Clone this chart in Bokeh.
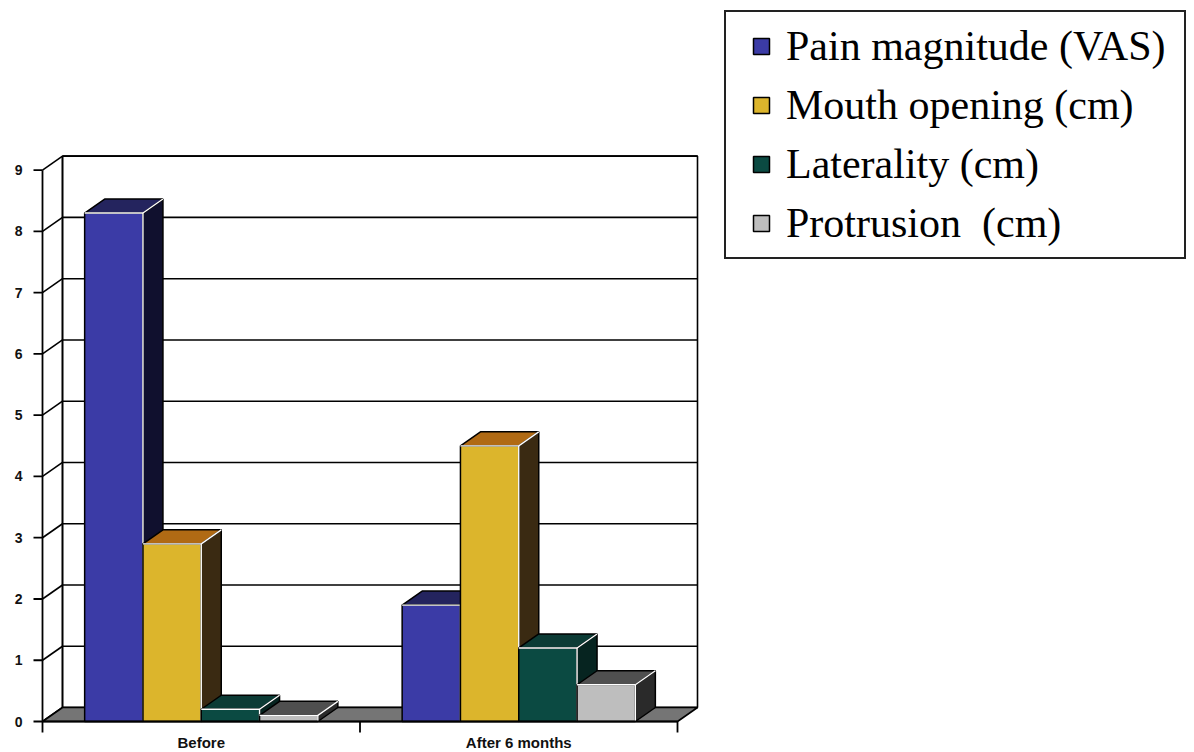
import numpy as np
from bokeh.plotting import figure
from bokeh.models import Range1d, FixedTicker, Legend, LegendItem
from bokeh.core.properties import value
from bokeh.embed import file_html
from bokeh.resources import INLINE

# ---------------- data ----------------
groups = ["Before", "After 6 months"]
series_names = ["Pain magnitude (VAS)", "Mouth opening (cm)", "Laterality (cm)", "Protrusion  (cm)"]
pain = [8.3, 1.9]
mouth_opening = [2.9, 4.5]
laterality = [0.2, 1.2]
protrusion = [0.1, 0.6]
y_ticks = [0, 1, 2, 3, 4, 5, 6, 7, 8, 9]

series_values = [pain, mouth_opening, laterality, protrusion]

# ---------------- style ----------------
front_colors = ["#3b3ba6", "#dcb52c", "#0b4a42", "#bebebe"]
top_colors = ["#24245e", "#b06a14", "#0c3b35", "#4f4f4f"]
side_colors = ["#10102e", "#3a2a12", "#062420", "#2a2a2a"]
LINE = "#000000"
FLOOR = "#757575"

FIG_W, FIG_H = 1194, 752
FRAME_L, FRAME_R, FRAME_T, FRAME_B = 28, 1194, 0, 752
ORIGIN_X, ORIGIN_Y = 42, 721          # pixel of data point (0, 0)
PX_PER_GROUP = 317.5
PX_PER_UNIT = 61.26
DEPTH_PX = (20, 14)
BAR_W = 58.3 / PX_PER_GROUP
Y_TICK_PX = 9
X_TICK_PX = 11
X_LABEL_OFFSET_PX = 21

x_start = (FRAME_L - ORIGIN_X) / PX_PER_GROUP
x_end = (FRAME_R - ORIGIN_X) / PX_PER_GROUP
y_start = (ORIGIN_Y - FRAME_B) / PX_PER_UNIT
y_end = (ORIGIN_Y - FRAME_T) / PX_PER_UNIT

p = figure(width=FIG_W, height=FIG_H,
           x_range=Range1d(x_start, x_end), y_range=Range1d(y_start, y_end),
           output_backend="svg", toolbar_location=None,
           min_border_left=FRAME_L, min_border_right=FIG_W - FRAME_R,
           min_border_top=FRAME_T, min_border_bottom=FIG_H - FRAME_B)
p.outline_line_color = None
p.grid.visible = False
p.background_fill_color = "white"
p.border_fill_color = "white"

n = len(groups)
ymax = y_ticks[-1]
DX = DEPTH_PX[0] / PX_PER_GROUP
DY = DEPTH_PX[1] / PX_PER_UNIT
nt = len(y_ticks)
yt = np.asarray(y_ticks, float)

# back wall
p.quad(left=[DX], right=[n + DX], bottom=[DY], top=[ymax + DY],
       fill_color="white", line_color=LINE, line_width=1.6)
# gridlines on back wall
p.segment(x0=[DX] * nt, x1=[n + DX] * nt, y0=yt + DY, y1=yt + DY,
          line_color=LINE, line_width=1.6)
# left wall diagonals and back edge
p.segment(x0=[0] * nt, y0=yt, x1=[DX] * nt, y1=yt + DY, line_color=LINE, line_width=1.6)
p.segment(x0=[DX], y0=[DY], x1=[DX], y1=[ymax + DY], line_color=LINE, line_width=1.6)
# floor
p.patch([0, n, n + DX, DX], [0, 0, DY, DY], fill_color=FLOOR, line_color=LINE, line_width=1.6)

# bars
centers = np.arange(n) + 0.5
front_renderers = []
for s, vals in enumerate(series_values):
    vals = np.asarray(vals, float)
    x0 = centers - 2 * BAR_W + s * BAR_W
    x1 = x0 + BAR_W
    side_xs = [[b, b + DX, b + DX, b] for b in x1]
    side_ys = [[0, DY, v + DY, v] for v in vals]
    top_xs = [[a, b, b + DX, a + DX] for a, b in zip(x0, x1)]
    top_ys = [[v, v, v + DY, v + DY] for v in vals]
    p.patches(side_xs, side_ys, fill_color=side_colors[s], line_color=LINE, line_width=1.5)
    p.patches(top_xs, top_ys, fill_color=top_colors[s], line_color=LINE, line_width=1.5)
    r = p.quad(left=x0, right=x1, bottom=0, top=vals,
               fill_color=front_colors[s], line_color=LINE, line_width=1.5)
    front_renderers.append(r)
    hl_xs = [[a, b, b] for a, b in zip(x0, x1)] + [[b, b + DX] for b in x1]
    hl_ys = [[v, v, 0] for v in vals] + [[v, v + DY] for v in vals]
    p.multi_line(hl_xs, hl_ys, line_color="white", line_width=1.4)

# front axes lines and tick marks
TX = Y_TICK_PX / PX_PER_GROUP
TY = X_TICK_PX / PX_PER_UNIT
p.segment(x0=[0], y0=[0], x1=[0], y1=[ymax], line_color=LINE, line_width=1.8)
p.segment(x0=[-TX] * nt, y0=yt, x1=[0] * nt, y1=yt, line_color=LINE, line_width=1.8)
p.segment(x0=[0], y0=[0], x1=[n], y1=[0], line_color=LINE, line_width=1.8)
gx = np.arange(n + 1, dtype=float)
p.segment(x0=gx, y0=[0] * (n + 1), x1=gx, y1=[-TY] * (n + 1), line_color=LINE, line_width=1.8)

# category labels under the floor
p.text(x=centers, y=[-X_LABEL_OFFSET_PX / PX_PER_UNIT] * n, text=groups,
       text_font=value("Liberation Sans"), text_font_style="bold",
       text_font_size="15px", text_color="#111111",
       text_align="center", text_baseline="middle")

# axes
p.xaxis.visible = False
p.yaxis.ticker = FixedTicker(ticks=y_ticks)
p.yaxis.axis_line_color = None
p.yaxis.major_tick_line_color = None
p.yaxis.minor_tick_line_color = None
p.yaxis.major_tick_out = 0
p.yaxis.major_label_standoff = 6
p.yaxis.major_label_text_font = "Liberation Sans"
p.yaxis.major_label_text_font_style = "bold"
p.yaxis.major_label_text_font_size = "14px"
p.yaxis.major_label_text_color = "#111111"

# legend (inside the frame, top right)
items = [LegendItem(label=name, renderers=[r]) for name, r in zip(series_names, front_renderers)]
legend = Legend(items=items, location=(724 - FRAME_L, FRAME_B - 259))
legend.label_text_font = "Liberation Serif"
legend.label_text_font_size = "42px"
legend.label_text_color = "black"
legend.glyph_width = 20
legend.glyph_height = 20
legend.label_standoff = 15
legend.spacing = 11
legend.border_line_color = "#222222"
legend.border_line_alpha = 1.0
legend.border_line_width = 2
legend.background_fill_color = "white"
legend.background_fill_alpha = 1.0
try:
    legend.padding = dict(left=25, right=18, top=10, bottom=10)
except Exception:
    legend.padding = 12
p.add_layout(legend)

open("out.html", "w").write(file_html(p, INLINE))
